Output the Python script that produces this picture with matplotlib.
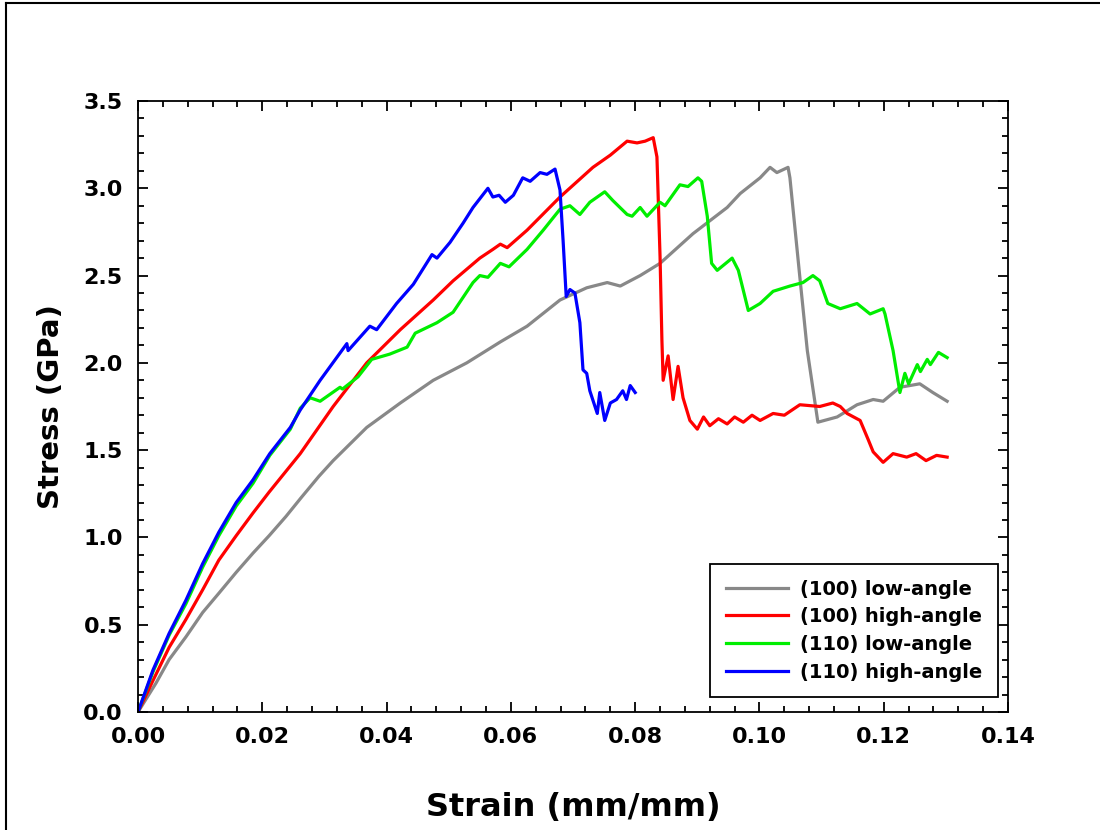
import numpy as np
import matplotlib.pyplot as plt
from matplotlib.lines import Line2D
from matplotlib.ticker import MultipleLocator

plt.rcParams['font.family'] = 'DejaVu Sans'
plt.rcParams['font.weight'] = 'bold'

# (100) low-angle
x_100_low = [0, 0.0029, 0.005, 0.0077, 0.0104, 0.013, 0.0158, 0.0185, 0.0211, 0.0238,
             0.0263, 0.0291, 0.0314, 0.0368, 0.0422, 0.0475, 0.0529, 0.0583, 0.0626, 0.0679,
             0.0722, 0.0755, 0.0776, 0.0808, 0.084, 0.0893, 0.0948, 0.0969, 0.1001, 0.1017,
             0.1028, 0.1046, 0.1049, 0.1065, 0.1077, 0.1094, 0.1125, 0.1157, 0.1183, 0.1199,
             0.1226, 0.1242, 0.1258, 0.1279, 0.1302]
y_100_low = [0, 0.166, 0.30, 0.43, 0.57, 0.68, 0.80, 0.91, 1.01, 1.12,
             1.23, 1.35, 1.44, 1.63, 1.77, 1.90, 2.00, 2.12, 2.21, 2.36,
             2.43, 2.46, 2.44, 2.50, 2.57, 2.74, 2.89, 2.97, 3.06, 3.12,
             3.09, 3.12, 3.06, 2.49, 2.07, 1.66, 1.69, 1.76, 1.79, 1.78,
             1.86, 1.87, 1.88, 1.83, 1.78]

# (100) high-angle
x_100_high = [0, 0.0024, 0.005, 0.0077, 0.0104, 0.013, 0.0158, 0.0185, 0.0211, 0.0261,
              0.0314, 0.0368, 0.0422, 0.0475, 0.0507, 0.055, 0.0571, 0.0583, 0.0594,
              0.0626, 0.0679, 0.0732, 0.076, 0.0787, 0.0803, 0.0816, 0.0829, 0.0835, 0.084,
              0.0843, 0.0845, 0.0853, 0.0861, 0.0869, 0.0877, 0.0888, 0.09, 0.091, 0.092,
              0.0934, 0.0948, 0.096, 0.0974, 0.0988, 0.1001, 0.1022, 0.104, 0.1065, 0.1097,
              0.1118, 0.113, 0.1141, 0.1162, 0.1175, 0.1183, 0.1199, 0.1215, 0.1237, 0.1252,
              0.1268, 0.1285, 0.1302]
y_100_high = [0, 0.18, 0.37, 0.53, 0.70, 0.87, 1.01, 1.14, 1.26, 1.48,
              1.75, 2.00, 2.19, 2.36, 2.47, 2.60, 2.65, 2.68, 2.66,
              2.76, 2.95, 3.12, 3.19, 3.27, 3.26, 3.27, 3.29, 3.18, 2.61,
              2.13, 1.90, 2.04, 1.79, 1.98, 1.80, 1.67, 1.62, 1.69, 1.64,
              1.68, 1.65, 1.69, 1.66, 1.70, 1.67, 1.71, 1.70, 1.76, 1.75,
              1.77, 1.75, 1.71, 1.67, 1.56, 1.49, 1.43, 1.48, 1.46, 1.48,
              1.44, 1.47, 1.46]

# (110) low-angle
x_110_low = [0, 0.0024, 0.005, 0.0077, 0.0104, 0.013, 0.0158, 0.0185, 0.0212, 0.0245,
             0.0261, 0.0277, 0.0293, 0.0325, 0.0329, 0.0354, 0.0376, 0.0405, 0.0433, 0.0446,
             0.0481, 0.0507, 0.0539, 0.055, 0.0563, 0.0583, 0.0597, 0.0626, 0.0652, 0.0679,
             0.0695, 0.0711, 0.0727, 0.0751, 0.0764, 0.0787, 0.0795, 0.0808, 0.0819, 0.084,
             0.0848, 0.0872, 0.0885, 0.0901, 0.0907, 0.0916, 0.0923, 0.0932, 0.0956, 0.0966,
             0.0982, 0.1001, 0.1022, 0.1049, 0.107, 0.1086, 0.1097, 0.111, 0.113, 0.1157,
             0.1178, 0.1199, 0.1202, 0.1215, 0.1226, 0.1234, 0.124, 0.1254, 0.1259, 0.127,
             0.1275, 0.1288, 0.1302]
y_110_low = [0, 0.23, 0.44, 0.62, 0.83, 1.01, 1.18, 1.31, 1.47, 1.62,
             1.74, 1.80, 1.78, 1.86, 1.85, 1.92, 2.02, 2.05, 2.09, 2.17,
             2.23, 2.29, 2.46, 2.50, 2.49, 2.57, 2.55, 2.65, 2.76, 2.88,
             2.90, 2.85, 2.92, 2.98, 2.93, 2.85, 2.84, 2.89, 2.84, 2.92,
             2.90, 3.02, 3.01, 3.06, 3.04, 2.84, 2.57, 2.53, 2.60, 2.53,
             2.30, 2.34, 2.41, 2.44, 2.46, 2.50, 2.47, 2.34, 2.31, 2.34,
             2.28, 2.31, 2.28, 2.07, 1.83, 1.94, 1.88, 1.99, 1.95, 2.02,
             1.99, 2.06, 2.03]

# (110) high-angle
x_110_high = [0, 0.0024, 0.005, 0.0077, 0.0104, 0.013, 0.0158, 0.0185, 0.0212, 0.0245,
              0.0261, 0.0293, 0.0336, 0.0338, 0.0373, 0.0384, 0.0416, 0.0443, 0.0473, 0.0481,
              0.0502, 0.0523, 0.0539, 0.0563, 0.0571, 0.0581, 0.0591, 0.0604, 0.0619, 0.0631,
              0.0647, 0.0658, 0.0671, 0.0679, 0.0684, 0.0689, 0.0695, 0.0703, 0.0711, 0.0716,
              0.0722, 0.0727, 0.0739, 0.0743, 0.0751, 0.076, 0.077, 0.078, 0.0786, 0.0792,
              0.08]
y_110_high = [0, 0.24, 0.45, 0.64, 0.85, 1.03, 1.20, 1.33, 1.48, 1.63,
              1.73, 1.90, 2.11, 2.07, 2.21, 2.19, 2.34, 2.45, 2.62, 2.60,
              2.69, 2.80, 2.89, 3.00, 2.95, 2.96, 2.92, 2.96, 3.06, 3.04,
              3.09, 3.08, 3.11, 2.99, 2.70, 2.38, 2.42, 2.40, 2.23, 1.96,
              1.94, 1.84, 1.71, 1.83, 1.67, 1.77, 1.79, 1.84, 1.79, 1.87,
              1.83]

labels = ['(100) low-angle', '(100) high-angle', '(110) low-angle', '(110) high-angle']
colors = ['#888888', '#ff0000', '#00ee00', '#0000ff']

fig = plt.figure(figsize=(11, 8.3), dpi=100)
ax = fig.add_axes([0.1255, 0.1422, 0.7909, 0.7361])

series = [(x_100_low, y_100_low), (x_100_high, y_100_high),
          (x_110_low, y_110_low), (x_110_high, y_110_high)]
for (xs, ys), lab, c in zip(series, labels, colors):
    ax.plot(xs, ys, color=c, lw=2.3, label=lab)

ax.set_xlim(0, 0.14)
ax.set_ylim(0, 3.5)
ax.xaxis.set_major_locator(MultipleLocator(0.02))
ax.xaxis.set_minor_locator(MultipleLocator(0.004))
ax.yaxis.set_major_locator(MultipleLocator(0.5))
ax.yaxis.set_minor_locator(MultipleLocator(0.1))
ax.xaxis.set_major_formatter(plt.FormatStrFormatter('%.2f'))
ax.yaxis.set_major_formatter(plt.FormatStrFormatter('%.1f'))
ax.tick_params(which='both', direction='in', top=True, right=True, width=1.3)
ax.tick_params(which='major', length=7, labelsize=16, pad=11)
ax.tick_params(which='minor', length=4)
for s in ax.spines.values():
    s.set_linewidth(1.3)

ax.set_xlabel('Strain (mm/mm)', fontsize=23, fontweight='bold', labelpad=32)
ax.set_ylabel('Stress (GPa)', fontsize=21, fontweight='bold', labelpad=13)

leg = ax.legend(loc='lower right', bbox_to_anchor=(0.988, 0.024), borderaxespad=0,
                fontsize=14, handlelength=3.2, handletextpad=0.6, labelspacing=0.45,
                fancybox=False, framealpha=1, edgecolor='black', borderpad=0.8)
leg.get_frame().set_linewidth(1.3)

# outer frame (only top and left edges visible in the picture)
fig.add_artist(Line2D([0.0055, 1.0], [0.9964, 0.9964], color='black', lw=1.5,
                      transform=fig.transFigure))
fig.add_artist(Line2D([0.0055, 0.0055], [0.0, 0.9964], color='black', lw=1.5,
                      transform=fig.transFigure))

fig.savefig('out.png', dpi=100)
